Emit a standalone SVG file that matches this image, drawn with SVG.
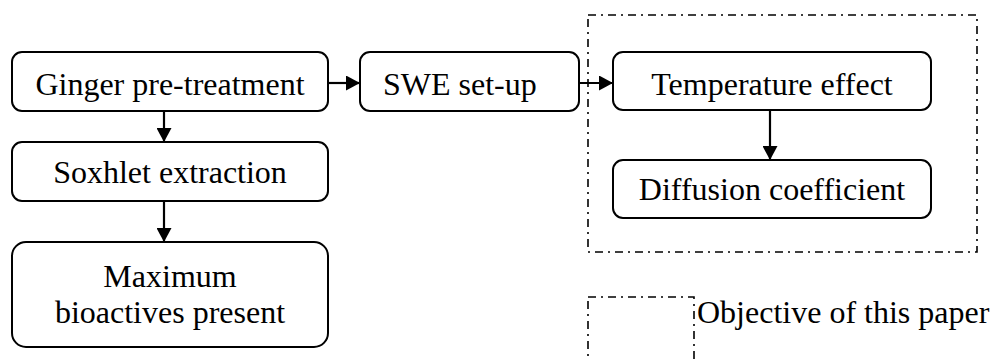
<svg xmlns="http://www.w3.org/2000/svg" width="992" height="360" viewBox="0 0 992 360">
<defs>
<style>
.box{fill:#fff;stroke:#000;stroke-width:2}
.t{font-family:"Liberation Serif","Times New Roman",Times,serif;font-size:32px;fill:#000}
.c{text-anchor:middle}
.dash{fill:none;stroke:#000;stroke-width:1.6;stroke-dasharray:8 5 2 5}
.ln{stroke:#000;stroke-width:2.2;fill:none}
</style>
<marker id="ah" markerWidth="14" markerHeight="15" refX="14" refY="7.5" orient="auto" markerUnits="userSpaceOnUse">
<path d="M0,0 L14,7.5 L0,15 Z" fill="#000"/>
</marker>
</defs>
<rect width="992" height="360" fill="#fff"/>
<g id="objective-region"><rect class="dash" x="588" y="15" width="389" height="237"/></g>
<g id="legend"><rect class="dash" x="588" y="297" width="106" height="80"/>
<text class="t" x="697" y="323">Objective of this paper</text></g>
<g id="connectors">
<line class="ln" x1="328" y1="83" x2="360" y2="83" marker-end="url(#ah)"/>
<line class="ln" x1="579" y1="83" x2="613" y2="83" marker-end="url(#ah)"/>
<line class="ln" x1="164" y1="111" x2="164" y2="142" marker-end="url(#ah)"/>
<line class="ln" x1="164" y1="201" x2="164" y2="242" marker-end="url(#ah)"/>
<line class="ln" x1="770" y1="110" x2="770" y2="160" marker-end="url(#ah)"/>
</g>
<g id="ginger"><rect class="box" x="12" y="52" width="316" height="59" rx="10"/>
<text class="t c" x="170" y="95">Ginger pre-treatment</text></g>
<g id="swe"><rect class="box" x="360" y="52" width="219" height="59" rx="10"/>
<text class="t" x="383" y="95">SWE set-up</text></g>
<g id="temperature"><rect class="box" x="613" y="52" width="318" height="58" rx="10"/>
<text class="t c" x="772" y="95">Temperature effect</text></g>
<g id="diffusion"><rect class="box" x="613" y="160" width="318" height="58" rx="10"/>
<text class="t c" x="772" y="200">Diffusion coefficient</text></g>
<g id="soxhlet"><rect class="box" x="12" y="142" width="316" height="59" rx="10"/>
<text class="t c" x="170" y="183">Soxhlet extraction</text></g>
<g id="maximum"><rect class="box" x="12" y="242" width="316" height="105" rx="14"/>
<text class="t c" x="170" y="287">Maximum</text>
<text class="t c" x="170" y="323">bioactives present</text></g>
</svg>
